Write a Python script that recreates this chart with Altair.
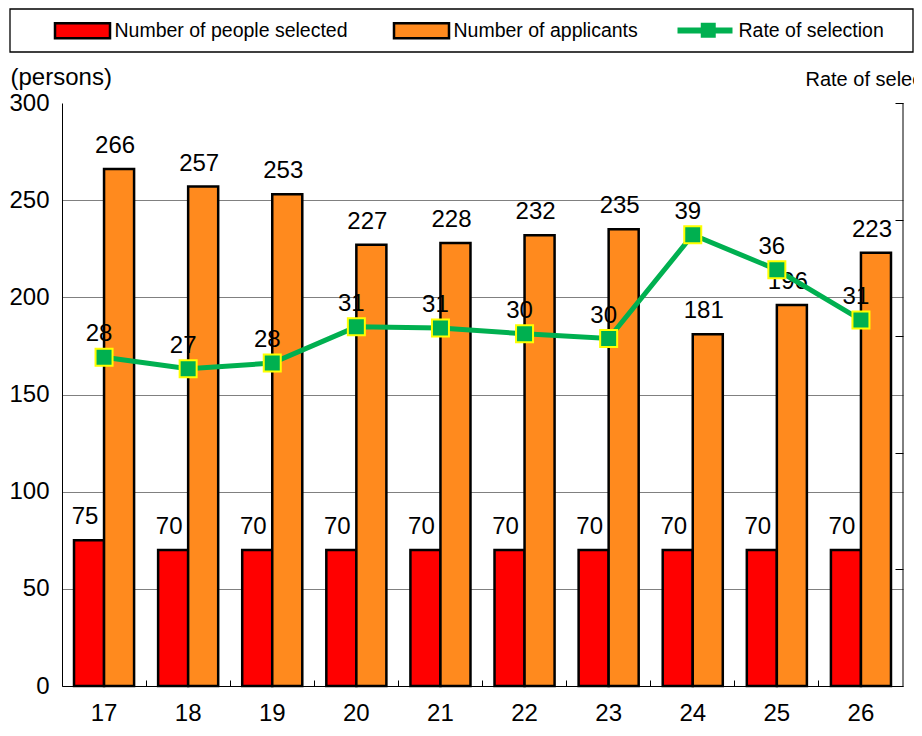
import altair as alt
import pandas as pd

# ---- data ----
years = ["17", "18", "19", "20", "21", "22", "23", "24", "25", "26"]
selected = [75, 70, 70, 70, 70, 70, 70, 70, 70, 70]
applicants = [266, 257, 253, 227, 228, 232, 235, 181, 196, 223]
rate = [28.2, 27.2, 27.7, 30.8, 30.7, 30.2, 29.8, 38.7, 35.7, 31.4]
series_names = ["Number of people selected", "Number of applicants"]
rate_name = "Rate of selection"
persons_ticks = [0, 50, 100, 150, 200, 250, 300]
rate_ticks = [0, 10, 20, 30, 40, 50]

bars_df = pd.DataFrame({
    "year": years * 2,
    "series": [series_names[0]] * len(years) + [series_names[1]] * len(years),
    "value": selected + applicants,
})
rate_df = pd.DataFrame({
    "year": years,
    "rate": rate,
    "line_key": [rate_name] * len(years),
    "marker_key": [rate_name] * len(years),
})

FONT = "Liberation Sans"
RED = "#ff0000"
ORANGE = "#ff8a1e"
GREEN = "#00b050"
YELLOW = "#ffff00"

W, H = 841, 583

x_enc = alt.X(
    "year:N", sort=years,
    scale=alt.Scale(paddingInner=0, paddingOuter=0),
    axis=alt.Axis(title=None, bandPosition=0, offset=-6, tickSize=6, tickColor="black",
                  domain=False, labelFontSize=24, labelFont=FONT,
                  labelColor="black", labelPadding=15, labelAngle=0, grid=False),
)
xoff_enc = alt.XOffset("series:N", sort=series_names,
                       scale=alt.Scale(paddingInner=0, paddingOuter=0.4))

y_p = alt.Y(
    "value:Q",
    scale=alt.Scale(domain=[0, 300], nice=False, zero=True),
    axis=alt.Axis(title="(persons)", values=persons_ticks, grid=True,
                  gridColor=alt.condition("datum.value === 0", alt.value("black"), alt.value("#808080")),
                  gridWidth=1,
                  gridOpacity=alt.condition("datum.value >= 300", alt.value(0), alt.value(1)),
                  ticks=False, tickSize=0, domainColor="black",
                  labelFontSize=24, labelFont=FONT, labelColor="black", labelPadding=13,
                  titleAngle=0, titleAlign="left", titleBaseline="middle",
                  titleX=-52, titleY=-26, titleFont=FONT, titleFontSize=24,
                  titleFontWeight="normal", titleColor="black"),
)

y_r = alt.Y(
    "rate:Q",
    scale=alt.Scale(domain=[0, 50], nice=False, zero=True),
    axis=alt.Axis(orient="right", title="Rate of selection (%)", values=rate_ticks,
                  offset=-8, labels=False, grid=False, tickSize=8, tickColor="black",
                  domain=False, titleAngle=0, titleAlign="left",
                  titleBaseline="middle", titleX=-90, titleY=-24, titleFont=FONT,
                  titleFontSize=20, titleFontWeight="normal", titleColor="black"),
)

legend_common = dict(title=None, orient="none", direction="horizontal",
                     labelFont=FONT, labelFontSize=19.5, labelColor="black",
                     labelLimit=400, labelOffset=3, padding=0)

bars = alt.Chart(bars_df).mark_bar(stroke="black", strokeWidth=2.5).encode(
    x=x_enc, xOffset=xoff_enc, y=y_p,
    fill=alt.Fill("series:N", sort=series_names,
                  scale=alt.Scale(domain=series_names, range=[RED, ORANGE]),
                  legend=alt.Legend(legendX=-8.5, legendY=-101.5,
                                    symbolType="M-1,-0.2727H1V0.2727H-1Z",
                                    symbolSize=3025, symbolStrokeColor="black",
                                    symbolStrokeWidth=2.5, columnPadding=40,
                                    **legend_common)),
)
bar_text = alt.Chart(bars_df).mark_text(
    font=FONT, fontSize=24, color="black", baseline="alphabetic", dx=-4, dy=-16
).encode(x=x_enc, xOffset=xoff_enc, y=y_p, text=alt.Text("value:Q"))

line = alt.Chart(rate_df).mark_line(strokeWidth=5).encode(
    x=x_enc, y=y_r,
    stroke=alt.Stroke("line_key:N", scale=alt.Scale(range=[GREEN]),
                      legend=alt.Legend(legendX=612.5, legendY=-103,
                                        symbolType="stroke", symbolSize=3025,
                                        symbolStrokeWidth=6, **legend_common)),
)
points = alt.Chart(rate_df).mark_point(
    filled=True, fill=GREEN, stroke=YELLOW, strokeWidth=2, size=289, opacity=1
).encode(
    x=x_enc, y=y_r,
    shape=alt.Shape("marker_key:N", scale=alt.Scale(range=["square"]),
                    legend=alt.Legend(legendX=636.5, legendY=-82.5, symbolSize=225,
                                      symbolFillColor=GREEN, symbolStrokeColor=YELLOW,
                                      symbolStrokeWidth=2, labelExpr="''",
                                      **legend_common)),
)
rate_text = alt.Chart(rate_df).mark_text(
    font=FONT, fontSize=24, color="black", baseline="alphabetic", dx=-5, dy=-16
).encode(x=x_enc, y=y_r, text=alt.Text("rate:Q", format=".0f"))

# decorations: legend frame and right axis line
frame = alt.Chart(alt.Data(values=[{"k": 1}])).mark_rect(
    fillOpacity=0, stroke="black", strokeWidth=1.3
).encode(x=alt.value(-52), x2=alt.value(851), y=alt.value(-94), y2=alt.value(-51))
right_line = alt.Chart(alt.Data(values=[{"k": 1}])).mark_rule(
    color="black", strokeWidth=1
).encode(x=alt.value(W), y=alt.value(0), y2=alt.value(H))

left = alt.layer(bars, bar_text)
right = alt.layer(line, points, rate_text)

chart = alt.layer(frame, right_line, left, right).resolve_scale(y="independent").properties(
    width=W, height=H,
    autosize=alt.AutoSizeParams(type="none"),
    padding={"left": 54, "top": 95, "right": 11, "bottom": 38},
    background="white",
).configure_view(strokeWidth=0)

chart.save("out.html", embed_options={"renderer": "svg", "actions": False})
